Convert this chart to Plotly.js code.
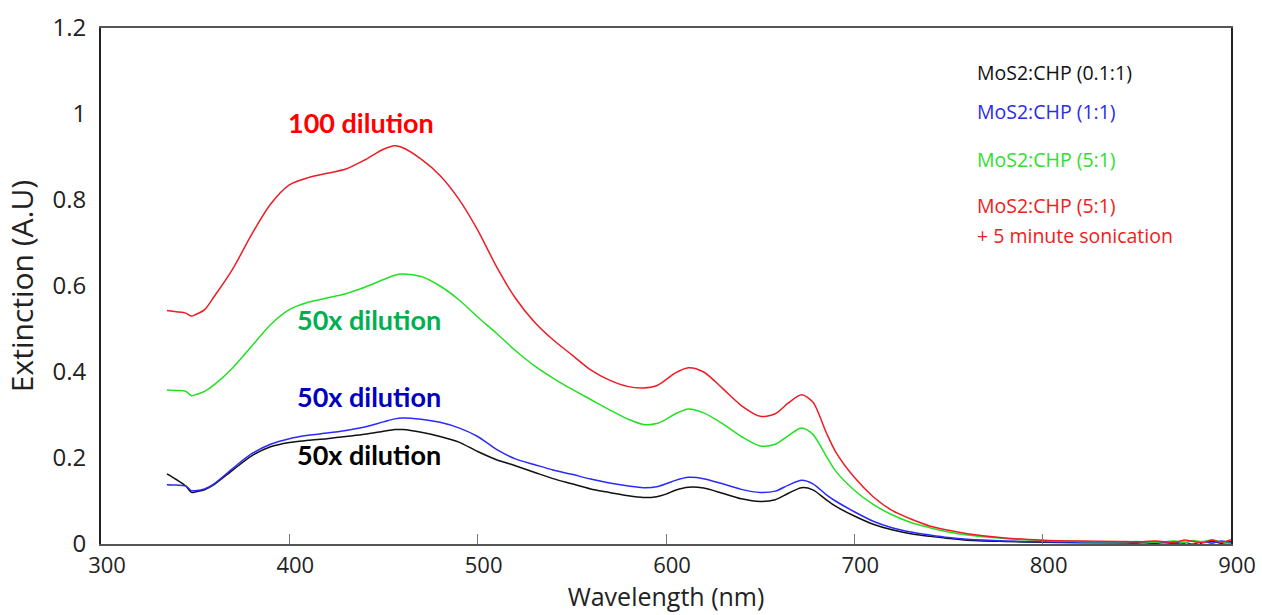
<!DOCTYPE html>
<html>
<head>
<meta charset="utf-8">
<script src="https://cdn.plot.ly/plotly-3.0.1.min.js"></script>
<style>html,body{margin:0;padding:0;background:#fff;}#chart{width:1262px;height:615px;}</style>
</head>
<body>
<div id="chart"></div>
<script>
// Wavelength grid (nm)
const wavelength = [335,340,345,348,350,355,360,370,380,390,400,410,420,430,440,450,456,460,470,480,490,500,510,520,530,540,550,560,570,580,588,595,600,605,612,620,630,640,650,658,665,672,678,685,690,700,710,720,730,740,750,760,780,800,820,840,850,860,870,875,880,885,890,895,900];

// MoS2:CHP (0.1:1) - black
const black01 = [0.163,0.150,0.135,0.120,0.121,0.126,0.138,0.172,0.205,0.226,0.236,0.241,0.245,0.250,0.255,0.262,0.266,0.266,0.260,0.250,0.237,0.215,0.196,0.182,0.167,0.152,0.140,0.128,0.120,0.112,0.108,0.110,0.116,0.125,0.132,0.130,0.118,0.105,0.099,0.103,0.118,0.131,0.126,0.103,0.088,0.065,0.046,0.033,0.024,0.018,0.013,0.009,0.006,0.004,0.003,0.003,0.004,0.002,0.005,0.001,-0.012,0.004,0.006,0.002,0.005];

// MoS2:CHP (1:1) - blue
const blue11 = [0.138,0.137,0.135,0.124,0.124,0.128,0.140,0.176,0.210,0.232,0.245,0.253,0.258,0.264,0.272,0.284,0.291,0.293,0.290,0.283,0.270,0.250,0.220,0.198,0.185,0.172,0.162,0.151,0.142,0.135,0.131,0.133,0.140,0.148,0.155,0.152,0.140,0.127,0.120,0.123,0.137,0.148,0.140,0.115,0.100,0.075,0.053,0.038,0.028,0.021,0.015,0.011,0.007,0.005,0.004,0.003,0.002,0.005,0.001,0.004,0.000,0.006,0.002,0.007,0.003];

// MoS2:CHP (5:1) - green
const green51 = [0.358,0.357,0.355,0.345,0.347,0.355,0.370,0.410,0.460,0.510,0.545,0.562,0.572,0.582,0.597,0.615,0.625,0.628,0.622,0.600,0.568,0.528,0.490,0.450,0.415,0.386,0.360,0.336,0.312,0.290,0.278,0.280,0.290,0.303,0.314,0.305,0.280,0.250,0.228,0.232,0.252,0.270,0.255,0.205,0.170,0.125,0.092,0.068,0.050,0.038,0.028,0.021,0.013,0.008,0.006,0.005,0.006,0.004,0.007,0.003,0.008,0.005,0.010,0.004,0.001];

// MoS2:CHP (5:1) + 5 minute sonication - red
const red51s = [0.543,0.540,0.537,0.530,0.533,0.545,0.575,0.640,0.720,0.790,0.835,0.852,0.862,0.872,0.893,0.918,0.926,0.922,0.895,0.857,0.802,0.730,0.645,0.572,0.517,0.475,0.440,0.405,0.381,0.366,0.363,0.368,0.382,0.398,0.410,0.400,0.362,0.322,0.297,0.303,0.328,0.347,0.330,0.260,0.215,0.155,0.110,0.078,0.058,0.042,0.032,0.024,0.014,0.009,0.007,0.006,0.005,0.007,0.004,0.009,0.006,0.003,0.009,0.004,0.010];

const seriesNames = ["MoS2:CHP (0.1:1)","MoS2:CHP (1:1)","MoS2:CHP (5:1)","MoS2:CHP (5:1) + 5 minute sonication"];
const seriesValues = [black01, blue11, green51, red51s];
const lineColors = ["#111111","#2a2aff","#22e022","#ee1c24"];

const legendLines = ["MoS2:CHP (0.1:1)","MoS2:CHP (1:1)","MoS2:CHP (5:1)","MoS2:CHP (5:1)","+ 5 minute sonication"];
const legendColors = ["#111111","#2b2bea","#2ee02e","#f02020","#f02020"];
const legendY = [72,112,159,206,235];

const dilutionLabels = ["100 dilution","50x dilution","50x dilution","50x dilution"];
const dilutionColors = ["#ff0000","#00b050","#0000c0","#000000"];
const dilutionX = [398,403,403,403];
const dilutionY = [0.981,0.523,0.342,0.207];

const xTicks = [300,400,500,600,700,800,900];
const yTicks = [0,0.2,0.4,0.6,0.8,1,1.2];

const traces = seriesValues.map((v,i)=>({
  x: wavelength, y: v, type:'scatter', mode:'lines', name: seriesNames[i],
  line:{color: lineColors[i], width:1.5, shape:'spline', smoothing:0.8},
  showlegend:false, hoverinfo:'x+y'
}));

const plotTop = 28, plotBottom = 544, plotH = plotBottom - plotTop;
const annotations = [];
legendLines.forEach((t,i)=>{
  annotations.push({xref:'paper', yref:'paper', x:(975-101)/1130, y:(plotBottom-legendY[i])/plotH,
    xanchor:'left', yanchor:'middle', text:t, showarrow:false,
    font:{family:'Open Sans, sans-serif', size:19.5, color:legendColors[i]}});
});
dilutionLabels.forEach((t,i)=>{
  annotations.push({xref:'x', yref:'y', x:dilutionX[i], y:dilutionY[i], xanchor:'left', yanchor:'middle',
    text:'<b>'+t+'</b>', showarrow:false,
    font:{family:'Lato, Open Sans, sans-serif', size:27, color:dilutionColors[i]}});
});

const layout = {
  width:1262, height:615,
  margin:{l:101, r:31, t:28, b:71},
  paper_bgcolor:'#ffffff', plot_bgcolor:'#ffffff',
  font:{family:'Open Sans, sans-serif', color:'#222'},
  xaxis:{
    range:[300,900], tickvals:xTicks, ticktext:xTicks.map(String),
    showline:true, linecolor:'#555', linewidth:2, mirror:true,
    ticks:'inside', ticklen:10, tickcolor:'#777', tickwidth:1,
    showgrid:false, zeroline:false,
    tickfont:{family:'Open Sans, sans-serif', size:22, color:'#222'},
    ticklabelstandoff:1, ticklabelshift:6,
    title:{text:'Wavelength (nm)', font:{family:'Open Sans, sans-serif', size:25, color:'#222'}, standoff:6}
  },
  yaxis:{
    range:[0,1.2], tickvals:yTicks, ticktext:["0","0.2","0.4","0.6","0.8","1","1.2"],
    showline:true, linecolor:'#222', linewidth:2, mirror:true,
    ticks:'', showgrid:false, zeroline:false,
    tickfont:{family:'Open Sans, sans-serif', size:24, color:'#222'},
    ticklabelstandoff:8,
    title:{text:'Extinction (A.U)', font:{family:'Open Sans, sans-serif', size:30, color:'#222'}, standoff:10}
  },
  annotations: annotations
};

Plotly.newPlot('chart', traces, layout, {displayModeBar:false, staticPlot:true});
</script>
</body>
</html>
